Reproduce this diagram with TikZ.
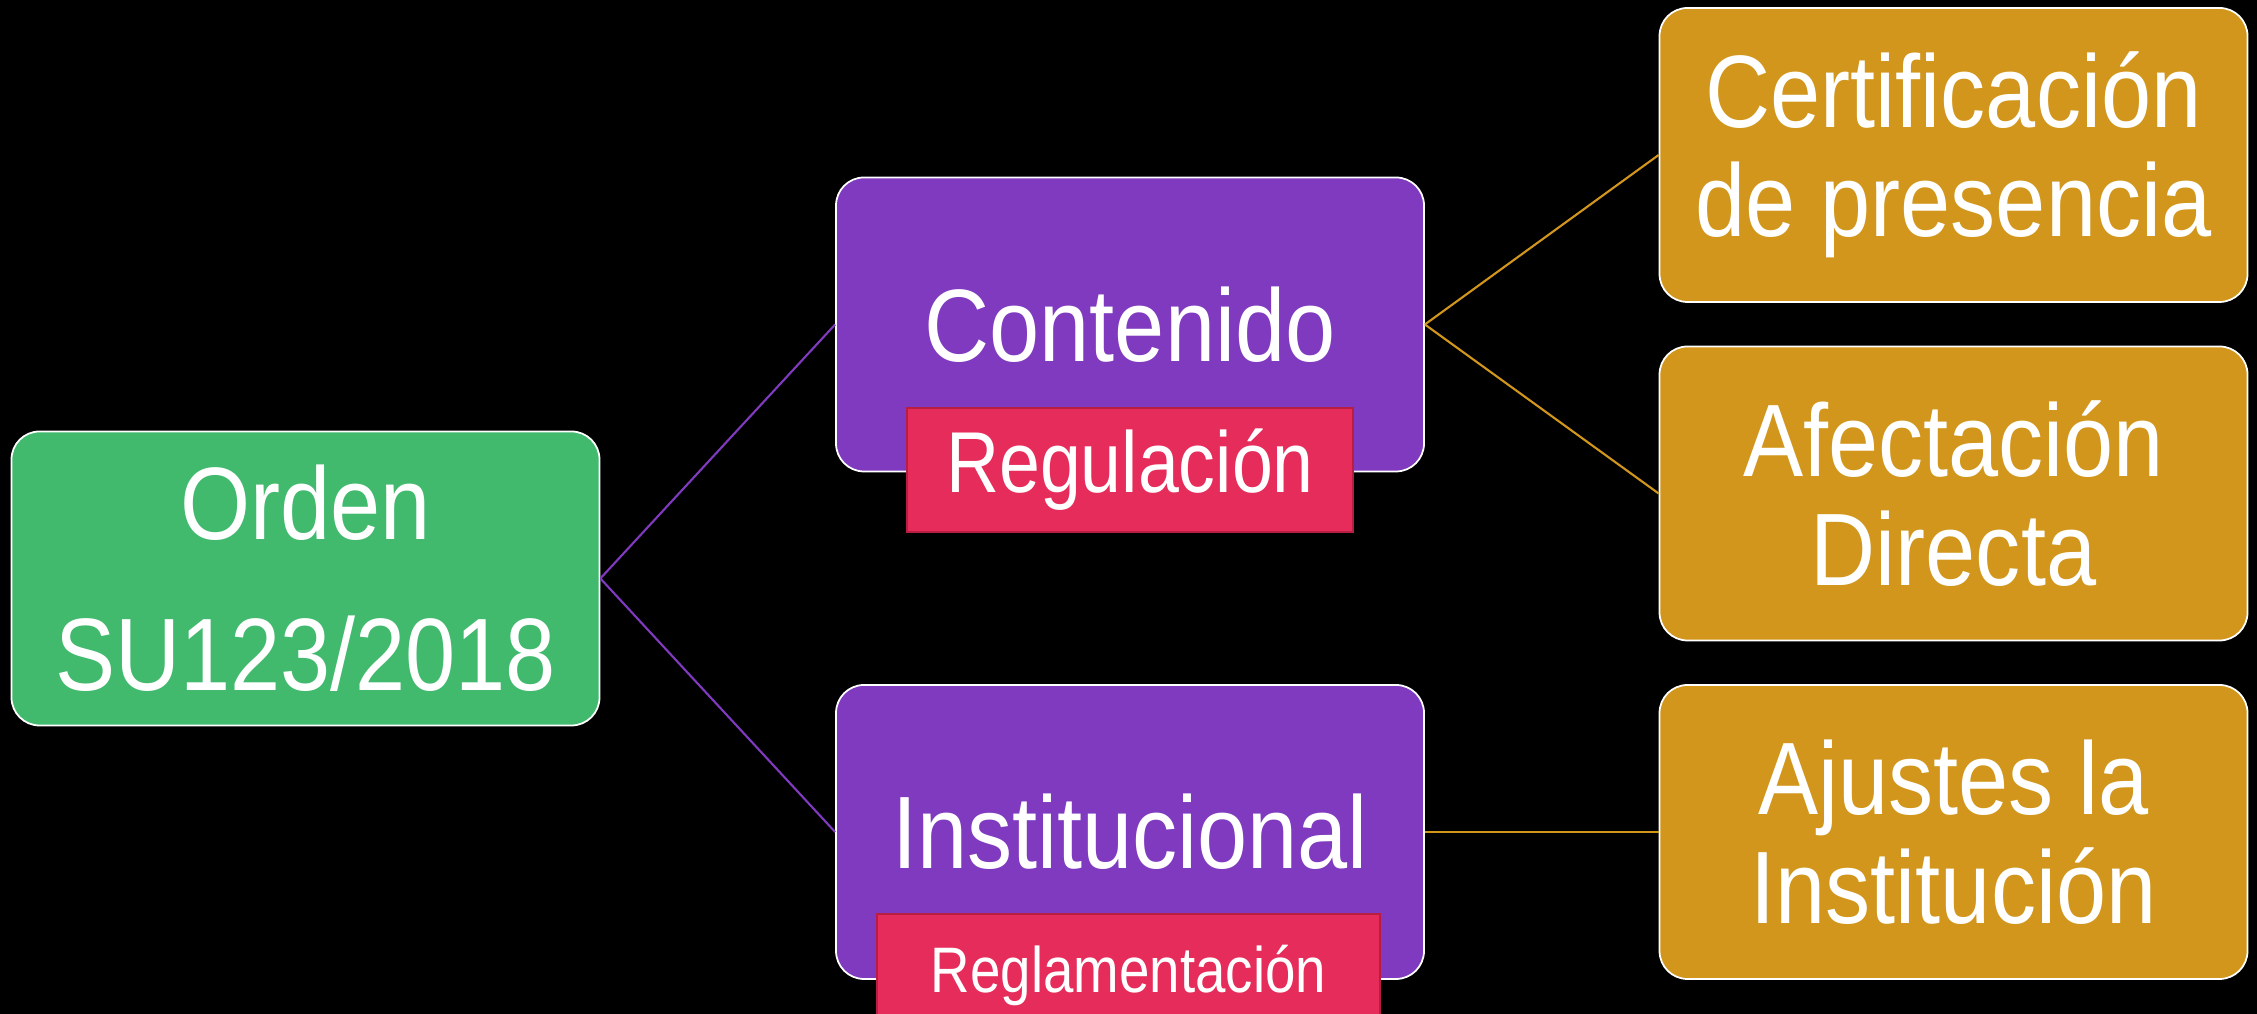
\documentclass[tikz,border=0pt]{standalone}
\usepackage{fontspec}
\newfontfamily\narrowfont{Liberation Sans}[FakeStretch=0.875]
\newfontfamily\tagfont{Liberation Sans}[FakeStretch=0.85]
\definecolor{ordengreen}{HTML}{41BA6E}
\definecolor{rampurple}{HTML}{7F3ABF}
\definecolor{hojagold}{HTML}{D1961B}
\definecolor{tagred}{HTML}{E52C5A}
\definecolor{tagborder}{HTML}{B81E42}

\begin{document}
\begin{tikzpicture}[
    box/.style={rectangle,rounded corners=0.28cm,draw=white,line width=0.5pt,text=white,align=center,
        minimum width=5.88cm,minimum height=2.94cm,inner sep=0pt,font=\narrowfont\fontsize{29.3}{31}\selectfont},
    raiz/.style={box,fill=ordengreen},
    rama/.style={box,fill=rampurple},
    hoja/.style={box,fill=hojagold},
    etiqueta/.style={rectangle,draw=tagborder,line width=0.8pt,fill=tagred,text=white,inner sep=0pt,minimum height=1.24cm},
    enlace/.style={line width=0.6pt}]

    \useasboundingbox (0,0) rectangle (22.57,10.14);
    \clip (0,0) rectangle (22.57,10.14);
    \fill[black] (0,0) rectangle (22.57,10.14);

    \node[raiz] (orden) at (3.055,4.355) {Orden\\[12pt]SU123/2018};

    \node[rama] (contenido) at (11.30,6.895) {Contenido};
    \node[rama] (institucional) at (11.30,1.82) {Institucional};

    \node[hoja] (certificacion) at (19.535,8.59) {Certificación\\de presencia};
    \node[hoja] (afectacion) at (19.535,5.205) {Afectación\\Directa};
    \node[hoja] (ajustes) at (19.535,1.82) {Ajustes la\\Institución};

    \node[etiqueta,minimum width=4.46cm,font=\tagfont\fontsize{24.6}{26}\selectfont] (regulacion) at (11.30,5.44) {Regulación};
    \node[etiqueta,minimum width=5.03cm,font=\tagfont\fontsize{18.3}{20}\selectfont] (reglamentacion) at (11.285,0.38) {Reglamentación};

    \draw[enlace,rampurple] (orden.east) -- (contenido.west);
    \draw[enlace,rampurple] (orden.east) -- (institucional.west);
    \draw[enlace,hojagold] (contenido.east) -- (certificacion.west);
    \draw[enlace,hojagold] (contenido.east) -- (afectacion.west);
    \draw[enlace,hojagold] (institucional.east) -- (ajustes.west);
\end{tikzpicture}
\end{document}
